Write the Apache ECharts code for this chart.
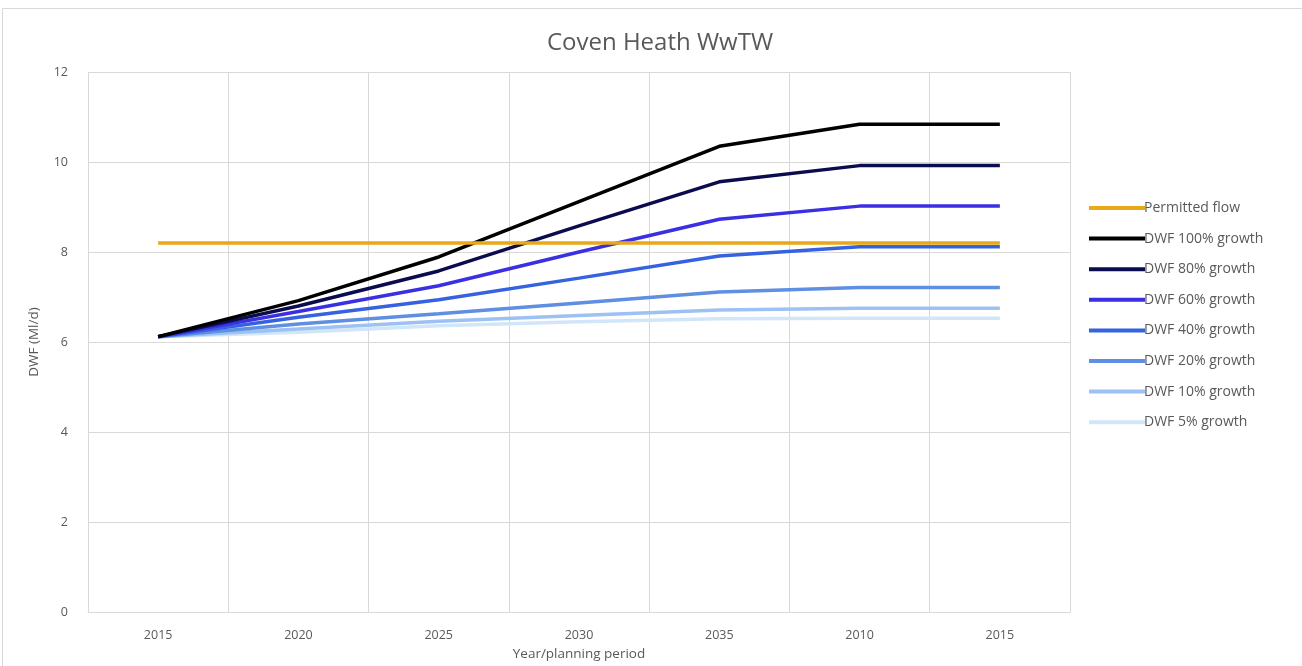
<!DOCTYPE html>
<html>
<head>
<meta charset="utf-8">
<script src="https://cdn.jsdelivr.net/npm/echarts@6/dist/echarts.min.js"></script>
<style>
  html, body { margin: 0; padding: 0; background: #fff; }
  #chart { width: 1302px; height: 666px; }
</style>
</head>
<body>
<div id="chart"></div>
<script>
// Planning periods along the x axis
const years = ['2015', '2020', '2025', '2030', '2035', '2010', '2015'];

// Flow values (Ml/d)
const permittedFlow = [8.2, 8.2, 8.2, 8.2, 8.2, 8.2, 8.2];
const dwf100 = [6.12, 6.92, 7.89, 9.12, 10.35, 10.84, 10.84];
const dwf80  = [6.12, 6.80, 7.58, 8.58, 9.56, 9.92, 9.92];
const dwf60  = [6.12, 6.68, 7.25, 8.00, 8.73, 9.02, 9.02];
const dwf40  = [6.12, 6.55, 6.94, 7.42, 7.91, 8.12, 8.12];
const dwf20  = [6.12, 6.40, 6.63, 6.87, 7.11, 7.21, 7.21];
const dwf10  = [6.12, 6.29, 6.46, 6.59, 6.71, 6.75, 6.75];
const dwf5   = [6.12, 6.22, 6.36, 6.45, 6.52, 6.53, 6.53];

const seriesNames = ['Permitted flow', 'DWF 100% growth', 'DWF 80% growth', 'DWF 60% growth',
  'DWF 40% growth', 'DWF 20% growth', 'DWF 10% growth', 'DWF 5% growth'];
const seriesData = [permittedFlow, dwf100, dwf80, dwf60, dwf40, dwf20, dwf10, dwf5];
const seriesColors = ['#E8A817', '#000000', '#0B0B4F', '#3B2FE3', '#3562E0', '#5E8FE2', '#9DC1F2', '#D2E6FA'];

const textColor = '#595959';
const gridColor = '#D9D9D9';
const font = 'Open Sans';

const chart = echarts.init(document.getElementById('chart'));
chart.setOption({
  animation: false,
  backgroundColor: '#fff',
  textStyle: { fontFamily: font },
  title: {
    text: 'Coven Heath WwTW',
    left: 655, top: 26, textAlign: 'center',
    textStyle: { fontFamily: font, fontSize: 24, fontWeight: 'normal', color: textColor }
  },
  graphic: [{
    type: 'rect',
    shape: { x: 2.5, y: 8.5, width: 1320, height: 700 },
    style: { fill: 'none', stroke: gridColor, lineWidth: 1 },
    silent: true
  }],
  legend: {
    orient: 'vertical',
    left: 1084, top: 196,
    itemWidth: 56, itemHeight: 4, itemGap: 16.6,
    icon: 'rect',
    textStyle: { fontFamily: font, fontSize: 14, color: textColor, padding: [0, 0, 0, -6] },
    data: seriesNames
  },
  grid: { left: 88, right: 232, top: 72, bottom: 51 },
  xAxis: {
    type: 'category',
    data: years,
    boundaryGap: true,
    name: 'Year/planning period',
    nameLocation: 'middle',
    nameGap: 29,
    nameTextStyle: { fontFamily: font, fontSize: 13.5, color: textColor },
    axisLine: { lineStyle: { color: gridColor } },
    axisTick: { show: false },
    axisLabel: { color: textColor, fontSize: 12.5, fontFamily: font, margin: 17 },
    splitLine: { show: true, lineStyle: { color: gridColor } }
  },
  yAxis: {
    type: 'value',
    min: 0, max: 12, interval: 2,
    name: 'DWF (Ml/d)',
    nameLocation: 'middle',
    nameGap: 47,
    nameTextStyle: { fontFamily: font, fontSize: 13.5, color: textColor },
    axisLine: { show: false },
    axisTick: { show: false },
    axisLabel: { color: textColor, fontSize: 12.5, fontFamily: font, margin: 20 },
    splitLine: { lineStyle: { color: gridColor } }
  },
  series: seriesNames.map((name, i) => ({
    name: name,
    type: 'line',
    data: seriesData[i],
    symbol: 'none',
    z: 10 - i,
    lineStyle: { color: seriesColors[i], width: 3.5 },
    itemStyle: { color: seriesColors[i] }
  }))
});
</script>
</body>
</html>
